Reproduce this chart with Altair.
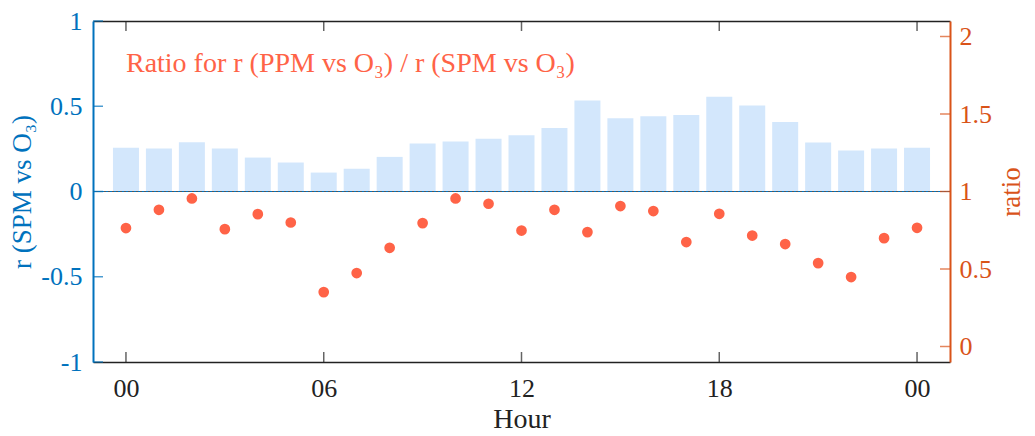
import altair as alt
import pandas as pd

hours = list(range(25))
r_spm = [0.256, 0.252, 0.289, 0.252, 0.199, 0.170, 0.111, 0.133, 0.203, 0.281,
         0.293, 0.309, 0.330, 0.373, 0.534, 0.430, 0.442, 0.448, 0.555, 0.504,
         0.407, 0.287, 0.240, 0.252, 0.256]
ratio = [0.764, 0.882, 0.955, 0.757, 0.854, 0.800, 0.351, 0.474, 0.637, 0.796,
         0.955, 0.921, 0.748, 0.882, 0.738, 0.906, 0.874, 0.674, 0.856, 0.716,
         0.661, 0.538, 0.448, 0.699, 0.766]
x_ticks = [0, 6, 12, 18, 24]
left_ticks = [-1, -0.5, 0, 0.5, 1]
right_ticks = [0, 0.5, 1, 1.5, 2]
annotation = "Ratio for r (PPM vs O\u2083) / r (SPM vs O\u2083)"

FONT = "Liberation Serif"
BLUE = "#0072BD"
ORANGE = "#D95319"
POINT = "#FF6347"
BAR = "#D3E7FC"
DARK = "#222222"
W, H = 857, 341

df = pd.DataFrame({"hour": hours, "r": r_spm, "ratio": ratio})
xdf = pd.DataFrame({"hour": x_ticks})
ldf = pd.DataFrame({"r": left_ticks})
rdf = pd.DataFrame({"ratio": right_ticks})
adf = pd.DataFrame({"hour": [0], "r": [0.70], "t": [annotation]})
zdf = pd.DataFrame({"r": [0]})

xscale = alt.Scale(domain=[-1, 25], nice=False, zero=False, padding=0)
yL = alt.Scale(domain=[-1, 1], nice=False, padding=0)
yR = alt.Scale(domain=[-0.1, 2.1], nice=False, padding=0)

xlabel = "datum.value == 24 ? '00' : (datum.value < 10 ? '0' + datum.value : '' + datum.value)"
numlabel = "replace(datum.label, '\u2212', '-')"

bars = alt.Chart(df).mark_bar(color=BAR, size=26).encode(
    x=alt.X("hour:Q", scale=xscale,
            axis=alt.Axis(orient="bottom", values=x_ticks, labelExpr=xlabel, ticks=False,
                          grid=False, domainColor=DARK, domainWidth=1.5,
                          labelFont=FONT, labelFontSize=26, labelColor=DARK,
                          labelPadding=13, title="Hour", titleFont=FONT, titleFontSize=28,
                          titleFontWeight="normal", titleColor=DARK, titlePadding=4)),
    y=alt.Y("r:Q", scale=yL,
            axis=alt.Axis(orient="left", values=left_ticks, ticks=False, grid=False,
                          format="~g", labelExpr=numlabel,
                          domainColor=BLUE, domainWidth=2, labelColor=BLUE,
                          labelFont=FONT, labelFontSize=26, labelPadding=11,
                          title="r (SPM vs O\u2083)", titleFont=FONT, titleFontSize=27,
                          titleFontWeight="normal", titleColor=BLUE, titlePadding=4)),
)

zero_blue = alt.Chart(zdf).mark_rule(color=BLUE, strokeWidth=1).encode(
    y=alt.Y("r:Q", scale=yL, axis=None))
zero_line = alt.Chart(zdf).mark_rule(color="#555555", strokeWidth=1.2, strokeDash=[2, 2]).encode(
    y=alt.Y("r:Q", scale=yL, axis=None))

lticks = alt.Chart(ldf).mark_tick(orient="horizontal", size=10, thickness=1.5, color=BLUE, xOffset=5).encode(
    x=alt.value(0),
    y=alt.Y("r:Q", scale=yL, axis=None))

text = alt.Chart(adf).mark_text(align="left", baseline="alphabetic", font=FONT, fontSize=28, color=POINT).encode(
    x=alt.X("hour:Q", scale=xscale, axis=None),
    y=alt.Y("r:Q", scale=yL, axis=None),
    text="t:N")

points = alt.Chart(df).mark_circle(color=POINT, size=115, opacity=1).encode(
    x=alt.X("hour:Q", scale=xscale,
            axis=alt.Axis(orient="top", values=x_ticks, labels=False, ticks=False, grid=False,
                          domainColor=DARK, domainWidth=1.5, title=None)),
    y=alt.Y("ratio:Q", scale=yR,
            axis=alt.Axis(orient="right", values=right_ticks, ticks=False, grid=False,
                          format="~g", labelExpr=numlabel,
                          domainColor=ORANGE, domainWidth=2, labelColor=ORANGE,
                          labelFont=FONT, labelFontSize=26, labelPadding=9,
                          title="ratio", titleFont=FONT, titleFontSize=27, titleAngle=270,
                          titleBaseline="top",
                          titleFontWeight="normal", titleColor=ORANGE, titlePadding=7)),
)

rticks = alt.Chart(rdf).mark_tick(orient="horizontal", size=10, thickness=1.5, color=ORANGE, xOffset=-5).encode(
    x=alt.value(W),
    y=alt.Y("ratio:Q", scale=yR, axis=None))

xt_bottom = alt.Chart(xdf).mark_tick(orient="vertical", size=10, thickness=1.5, color=DARK, yOffset=-5).encode(
    x=alt.X("hour:Q", scale=xscale, axis=None), y=alt.value(H))
xt_top = alt.Chart(xdf).mark_tick(orient="vertical", size=10, thickness=1.5, color=DARK, yOffset=5).encode(
    x=alt.X("hour:Q", scale=xscale, axis=None), y=alt.value(0))

chart = alt.layer(bars, zero_blue, zero_line, lticks, text, points, rticks, xt_bottom, xt_top).resolve_scale(
    y="independent").resolve_axis(x="independent", y="independent").properties(
    width=W, height=H, padding={"left": 0, "top": 0, "right": 0, "bottom": 0}
).configure_view(stroke=None)

chart.save("out.html", embed_options={"renderer": "svg", "actions": False})
